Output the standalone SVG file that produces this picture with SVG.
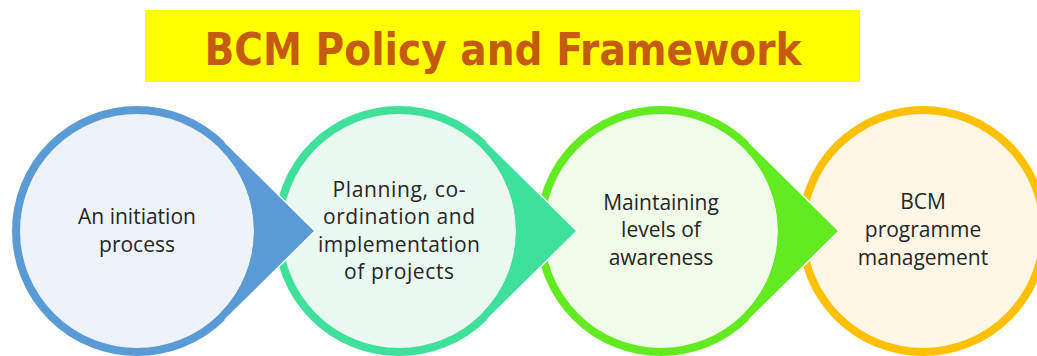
<svg xmlns="http://www.w3.org/2000/svg" xmlns:xlink="http://www.w3.org/1999/xlink" width="1037" height="356" viewBox="0 0 1037 356">
  <style>
    .title { font-family: "DejaVu Sans Condensed", "DejaVu Sans", "Liberation Sans", sans-serif; font-stretch: condensed; font-weight: bold; font-size: 45px; fill: #C55A11; }
    .lbl { font-family: "Open Sans", "Liberation Sans", sans-serif; font-size: 21px; fill: #262626; text-anchor: middle; }
    .ring { stroke-width: 8; }
    .edge { fill: none; stroke: #FFFFFF; stroke-width: 1.5; stroke-linejoin: miter; }
  </style>
  <defs>
    <path id="arrowShape" d="M87.8,-89 L178,0 L87.8,89 L82.2,83.3 A117,117 0 0 0 82.2,-83.3 Z"/>
    <polyline id="arrowEdge" points="87.8,-89 178,0 87.8,89"/>
  </defs>
  <rect width="1037" height="356" fill="#FFFFFF"/>
  <g id="title">
    <rect x="145" y="10" width="715" height="72" fill="#FFFF00"/>
    <text class="title" x="503" y="65" text-anchor="middle" textLength="597" lengthAdjust="spacingAndGlyphs">BCM Policy and Framework</text>
  </g>
  <g id="node1">
    <circle class="ring" cx="137" cy="231" r="121" fill="#EEF3FA" stroke="#5B9BD5"/>
    <text class="lbl" x="137" y="224">An initiation</text>
    <text class="lbl" x="137" y="252">process</text>
  </g>
  <g id="node2">
    <circle class="ring" cx="399" cy="231" r="121" fill="#EAF9F2" stroke="#3FE09C"/>
    <text class="lbl" x="399" y="197" textLength="133">Planning, co-</text>
    <text class="lbl" x="399" y="224" textLength="152">ordination and</text>
    <text class="lbl" x="399" y="252" textLength="162">implementation</text>
    <text class="lbl" x="399" y="279" textLength="110">of projects</text>
  </g>
  <g id="node3">
    <circle class="ring" cx="661" cy="231" r="121" fill="#F0FBE8" stroke="#63EB22"/>
    <text class="lbl" x="661" y="210">Maintaining</text>
    <text class="lbl" x="661" y="237">levels of</text>
    <text class="lbl" x="661" y="265">awareness</text>
  </g>
  <g id="node4">
    <circle class="ring" cx="923" cy="231" r="121" fill="#FFF7E6" stroke="#FFC000"/>
    <text class="lbl" x="923" y="209">BCM</text>
    <text class="lbl" x="923" y="237">programme</text>
    <text class="lbl" x="923" y="265">management</text>
  </g>
  <g id="connectors">
    <g transform="translate(137,231)">
      <use xlink:href="#arrowShape" fill="#5B9BD5"/>
      <use xlink:href="#arrowEdge" class="edge"/>
    </g>
    <g transform="translate(399,231)">
      <use xlink:href="#arrowShape" fill="#3FE09C"/>
      <use xlink:href="#arrowEdge" class="edge"/>
    </g>
    <g transform="translate(661,231)">
      <use xlink:href="#arrowShape" fill="#63EB22"/>
      <use xlink:href="#arrowEdge" class="edge"/>
    </g>
  </g>
</svg>
